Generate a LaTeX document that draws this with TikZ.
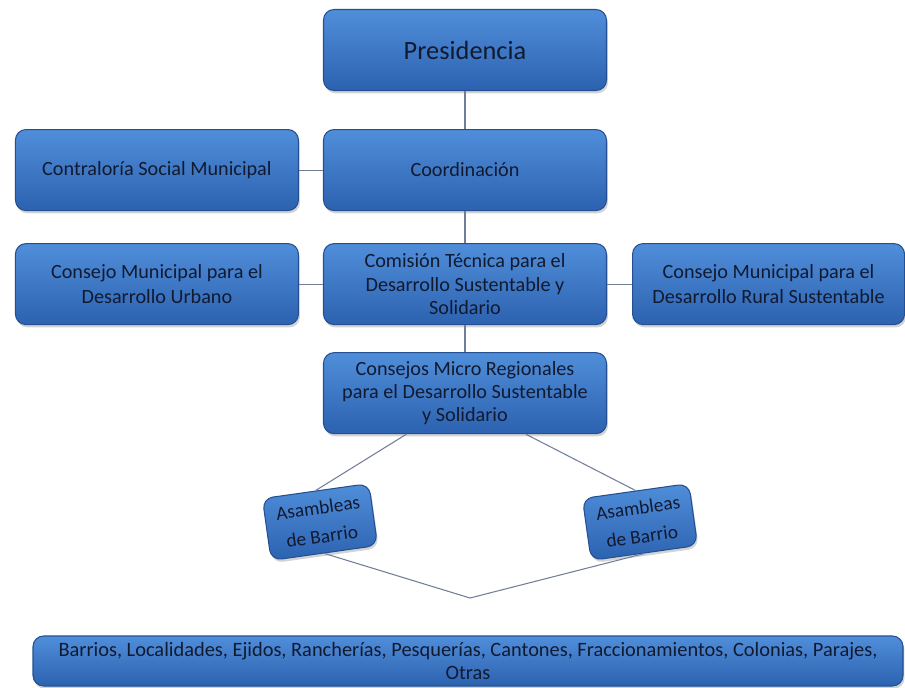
\documentclass[tikz,border=0pt]{standalone}
\usepackage{fontspec}
\setmainfont{Carlito}
\usetikzlibrary{positioning,shadows}

\definecolor{cajaarriba}{RGB}{80,142,218}
\definecolor{cajaabajo}{RGB}{44,98,176}
\definecolor{cajaborde}{RGB}{36,80,145}
\definecolor{textoazul}{RGB}{18,26,48}
\definecolor{lineagris}{RGB}{112,126,152}

\tikzset{
  orgbox/.style={rectangle, rounded corners=6pt, draw=cajaborde, line width=0.6pt,
    top color=cajaarriba, bottom color=cajaabajo, text=textoazul, align=center,
    minimum width=5.66cm, minimum height=1.62cm, font=\fontsize{11.5}{14}\selectfont,
    drop shadow={shadow xshift=0.8pt, shadow yshift=-1.6pt, opacity=0.35}},
  asambox/.style={orgbox, minimum width=2.15cm, minimum height=1.25cm, rotate=8,
    font=\fontsize{11}{16.5}\selectfont},
  enlace/.style={draw=lineagris, line width=0.6pt}
}

\begin{document}
\begin{tikzpicture}
  \useasboundingbox (0,0) rectangle (18.1,-13.74);

  % Nodes
  \node[orgbox, font=\fontsize{15}{18}\selectfont] (presid) at (9.30,-1.00) {Presidencia};
  \node[orgbox, below=0.76cm of presid] (coord) {Coordinación};
  \node[orgbox, left=0.48cm of coord] (contral) {Contraloría Social Municipal};
  \node[orgbox, below=0.64cm of coord, font=\fontsize{11.5}{13.3}\selectfont] (comision) {Comisión Técnica para el\\Desarrollo Sustentable y\\Solidario};
  \node[orgbox, left=0.48cm of comision] (urbano) {Consejo Municipal para el\\Desarrollo Urbano};
  \node[orgbox, right=0.5cm of comision, minimum width=5.44cm] (rural) {Consejo Municipal para el\\Desarrollo Rural Sustentable};
  \node[orgbox, below=0.54cm of comision, font=\fontsize{11.5}{13.3}\selectfont] (micro) {Consejos Micro Regionales\\para el Desarrollo Sustentable\\y Solidario};
  \node[asambox] (asamizq) at (6.40,-10.44) {Asambleas\\de Barrio};
  \node[asambox] (asamder) at (12.80,-10.44) {Asambleas\\de Barrio};
  \coordinate (union) at (9.40,-11.96);
  \node[orgbox, minimum width=17.4cm, minimum height=1.0cm, inner sep=1pt,
    font=\fontsize{11.6}{13}\selectfont] (localidades) at (9.36,-13.22)
    {Barrios, Localidades, Ejidos, Rancherías, Pesquerías, Cantones, Fraccionamientos, Colonias, Parajes,\\Otras};

  % Lines
  \draw[enlace] (presid) -- (coord);
  \draw[enlace] (coord) -- (contral);
  \draw[enlace] (coord) -- (comision);
  \draw[enlace] (comision) -- (urbano);
  \draw[enlace] (comision) -- (rural);
  \draw[enlace] (comision) -- (micro);
  \draw[enlace] (micro.215) -- (asamizq.north);
  \draw[enlace] (micro.326) -- (asamder.north);
  \draw[enlace] (asamizq.south) -- (union) -- (asamder.south);
\end{tikzpicture}
\end{document}
